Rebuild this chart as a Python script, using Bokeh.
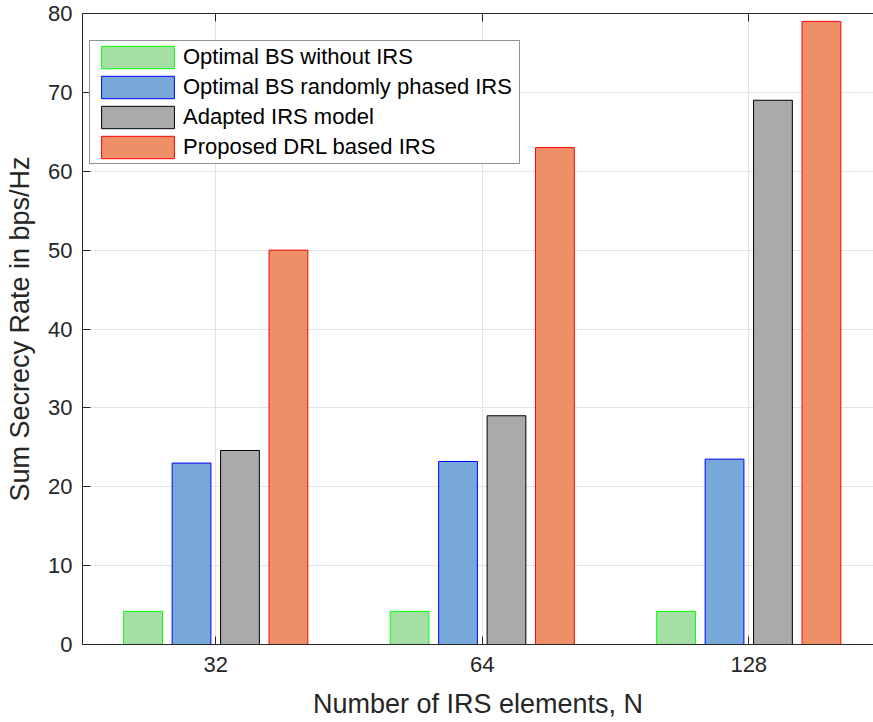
from bokeh.plotting import figure
from bokeh.models import (Range1d, FixedTicker, LinearAxis, Legend, LegendItem,
                          ColumnDataSource, CustomJSTickFormatter)
from bokeh.embed import file_html
from bokeh.resources import INLINE

# Data
categories = ["32", "64", "128"]
without_irs = [4.2, 4.2, 4.2]
random_irs = [23.0, 23.2, 23.5]
adapted_irs = [24.6, 29.0, 69.0]
proposed_drl = [50.0, 63.0, 79.0]

series_names = [
    "Optimal BS without IRS",
    "Optimal BS randomly phased IRS",
    "Adapted IRS model",
    "Proposed DRL based IRS",
]
series_values = [without_irs, random_irs, adapted_irs, proposed_drl]
fill_colors = ["#a6dfa5", "#77a8d7", "#aaaaaa", "#ef8f68"]
edge_colors = ["#00ff00", "#0000ff", "#000000", "#ff0000"]

FONT = "Liberation Sans"
AX = "#262626"

# Grouped bar geometry (grouped bars with 80% bar width)
n = len(series_values)
group_width = min(0.8, n / (n + 1.5))
pitch = group_width / n
bar_width = 0.8 * pitch
centers = list(range(1, len(categories) + 1))

p = figure(
    width=873, height=722,
    x_range=Range1d(0.5, 0.5 + 791 / 266.5),
    y_range=Range1d(0, 80),
    output_backend="svg", toolbar_location=None,
    min_border_left=82, min_border_right=0, min_border_top=13, min_border_bottom=78,
    x_axis_location=None, y_axis_location=None,
)
p.outline_line_color = None
p.background_fill_color = "white"
p.border_fill_color = "white"

items = []
for i, (name, vals) in enumerate(zip(series_names, series_values)):
    off = -group_width / 2 + (i + 0.5) * pitch
    src = ColumnDataSource(dict(x=[c + off for c in centers], top=vals))
    r = p.vbar(x="x", top="top", bottom=0, width=bar_width, source=src,
               fill_color=fill_colors[i], line_color=edge_colors[i], line_width=1)
    items.append(LegendItem(label=name, renderers=[r]))

# Axes
def style_axis(ax):
    ax.axis_line_color = AX
    ax.major_tick_line_color = AX
    ax.major_tick_in = 8
    ax.major_tick_out = 0
    ax.minor_tick_line_color = None
    ax.major_label_text_color = AX
    ax.major_label_text_font = FONT
    ax.axis_label_text_color = AX
    ax.axis_label_text_font = FONT
    ax.axis_label_text_font_style = "normal"

xaxis = LinearAxis(ticker=FixedTicker(ticks=centers),
                   major_label_overrides={c: lab for c, lab in zip(centers, categories)},
                   axis_label="Number of IRS elements, N")
style_axis(xaxis)
xaxis.major_label_text_font_size = "22px"
xaxis.axis_label_text_font_size = "27px"
xaxis.major_label_standoff = 12
xaxis.axis_label_standoff = 14
p.add_layout(xaxis, "below")

yaxis = LinearAxis(ticker=FixedTicker(ticks=list(range(0, 81, 10))),
                   axis_label="Sum Secrecy Rate in bps/Hz")
style_axis(yaxis)
yaxis.major_label_text_font_size = "22px"
yaxis.axis_label_text_font_size = "27px"
yaxis.major_label_standoff = 10
yaxis.axis_label_standoff = 10
p.add_layout(yaxis, "left")

# Box line along the top with inward ticks, no labels
top_axis = LinearAxis(ticker=FixedTicker(ticks=centers),
                      formatter=CustomJSTickFormatter(code="return ''"))
style_axis(top_axis)
top_axis.major_label_standoff = 0
p.add_layout(top_axis, "above")

# Grid
p.xgrid.ticker = FixedTicker(ticks=centers)
p.ygrid.ticker = FixedTicker(ticks=list(range(0, 81, 10)))
for g in (p.xgrid, p.ygrid):
    g.grid_line_color = "#e3e3e3"
    g.grid_line_width = 1

legend = Legend(items=items, location=(7, 480))
legend.label_text_font = FONT
legend.label_text_font_size = "22px"
legend.label_text_color = "#000000"
legend.glyph_width = 91
legend.glyph_height = 28
legend.label_height = 28
legend.label_width = 334
legend.label_standoff = 0
legend.spacing = 2
legend.padding = 2
legend.margin = 0
legend.border_line_color = AX
legend.border_line_width = 1
legend.background_fill_color = "white"
legend.background_fill_alpha = 1
p.add_layout(legend, "center")

open("out.html", "w").write(file_html(p, INLINE))
